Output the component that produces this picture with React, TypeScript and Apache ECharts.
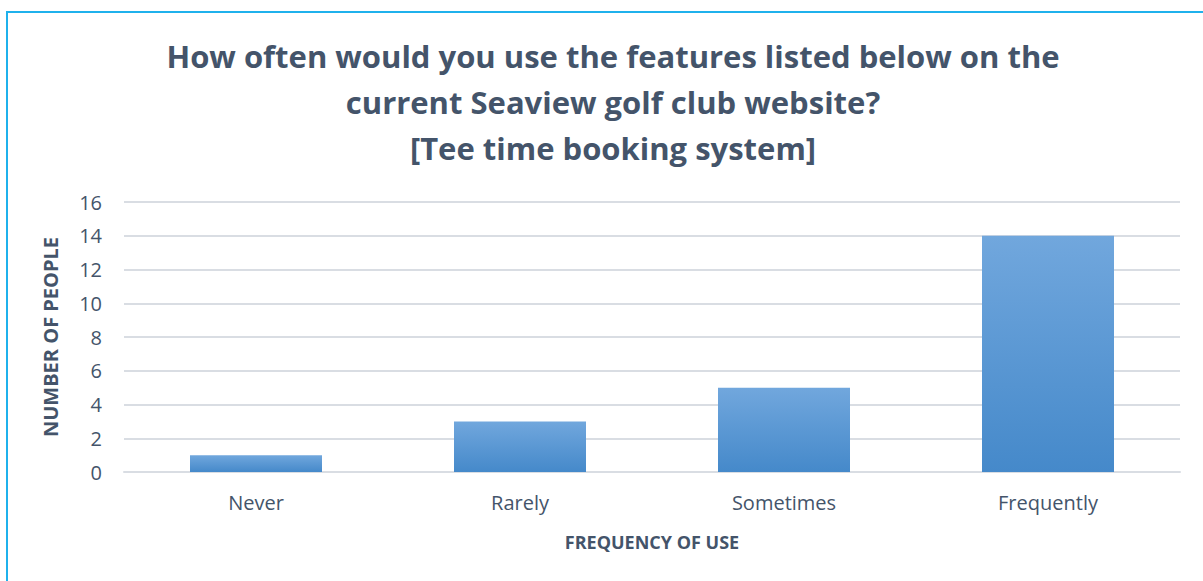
import React, { useEffect, useRef } from "react";
import * as echarts from "echarts";

const categories = ["Never", "Rarely", "Sometimes", "Frequently"];
const counts = [1, 3, 5, 14];
const yTicks = { min: 0, max: 16, interval: 2 };
const titleLines = [
  "How often would you use the features listed below on the",
  "current Seaview golf club website?",
  "[Tee time booking system]",
];

export default function App() {
  const ref = useRef<HTMLDivElement>(null);
  useEffect(() => {
    const chart = echarts.init(ref.current!, null, { renderer: "svg" });
    const textColor = "#44546a";
    const font = "'Open Sans', 'Noto Sans', sans-serif";
    chart.setOption({
      animation: false,
      backgroundColor: "#ffffff",
      graphic: [
        {
          type: "rect",
          shape: { x: 7, y: 12, width: 1300, height: 700 },
          style: { fill: "none", stroke: "#1fb1ec", lineWidth: 2 },
          silent: true,
        },
      ],
      title: {
        text: titleLines.join("\n"),
        left: 608,
        textAlign: "center",
        top: 28,
        textStyle: {
          color: textColor,
          fontFamily: font,
          fontWeight: "bold",
          fontSize: 31,
          lineHeight: 46,
        },
      },
      grid: { left: 124, right: 23, top: 202, bottom: 109, containLabel: false },
      xAxis: {
        type: "category",
        data: categories,
        axisLine: { show: true, lineStyle: { color: "#d9dde3", width: 2 } },
        axisTick: { show: false },
        axisLabel: { color: textColor, fontFamily: font, fontSize: 20, margin: 20 },
        name: "FREQUENCY OF USE",
        nameLocation: "middle",
        nameGap: 61,
        nameTextStyle: { color: textColor, fontFamily: font, fontSize: 18, fontWeight: "bold" },
      },
      yAxis: {
        type: "value",
        min: yTicks.min,
        max: yTicks.max,
        interval: yTicks.interval,
        axisLine: { show: false },
        axisTick: { show: false },
        splitLine: { lineStyle: { color: "#d9dde3", width: 2 } },
        axisLabel: { color: textColor, fontFamily: font, fontSize: 20, margin: 22 },
        name: "NUMBER OF PEOPLE",
        nameLocation: "middle",
        nameGap: 64,
        nameRotate: 90,
        nameTextStyle: { color: textColor, fontFamily: font, fontSize: 20, fontWeight: "bold" },
      },
      series: [
        {
          type: "bar",
          data: counts,
          barWidth: "50%",
          itemStyle: {
            color: new echarts.graphic.LinearGradient(0, 0, 0, 1, [
              { offset: 0, color: "#71a7dd" },
              { offset: 1, color: "#4589ca" },
            ]),
          },
        },
      ],
    });
    return () => chart.dispose();
  }, []);
  return (
    <div
      ref={ref}
      style={{ position: "fixed", left: 0, top: 0, width: 1203, height: 581 }}
    />
  );
}
